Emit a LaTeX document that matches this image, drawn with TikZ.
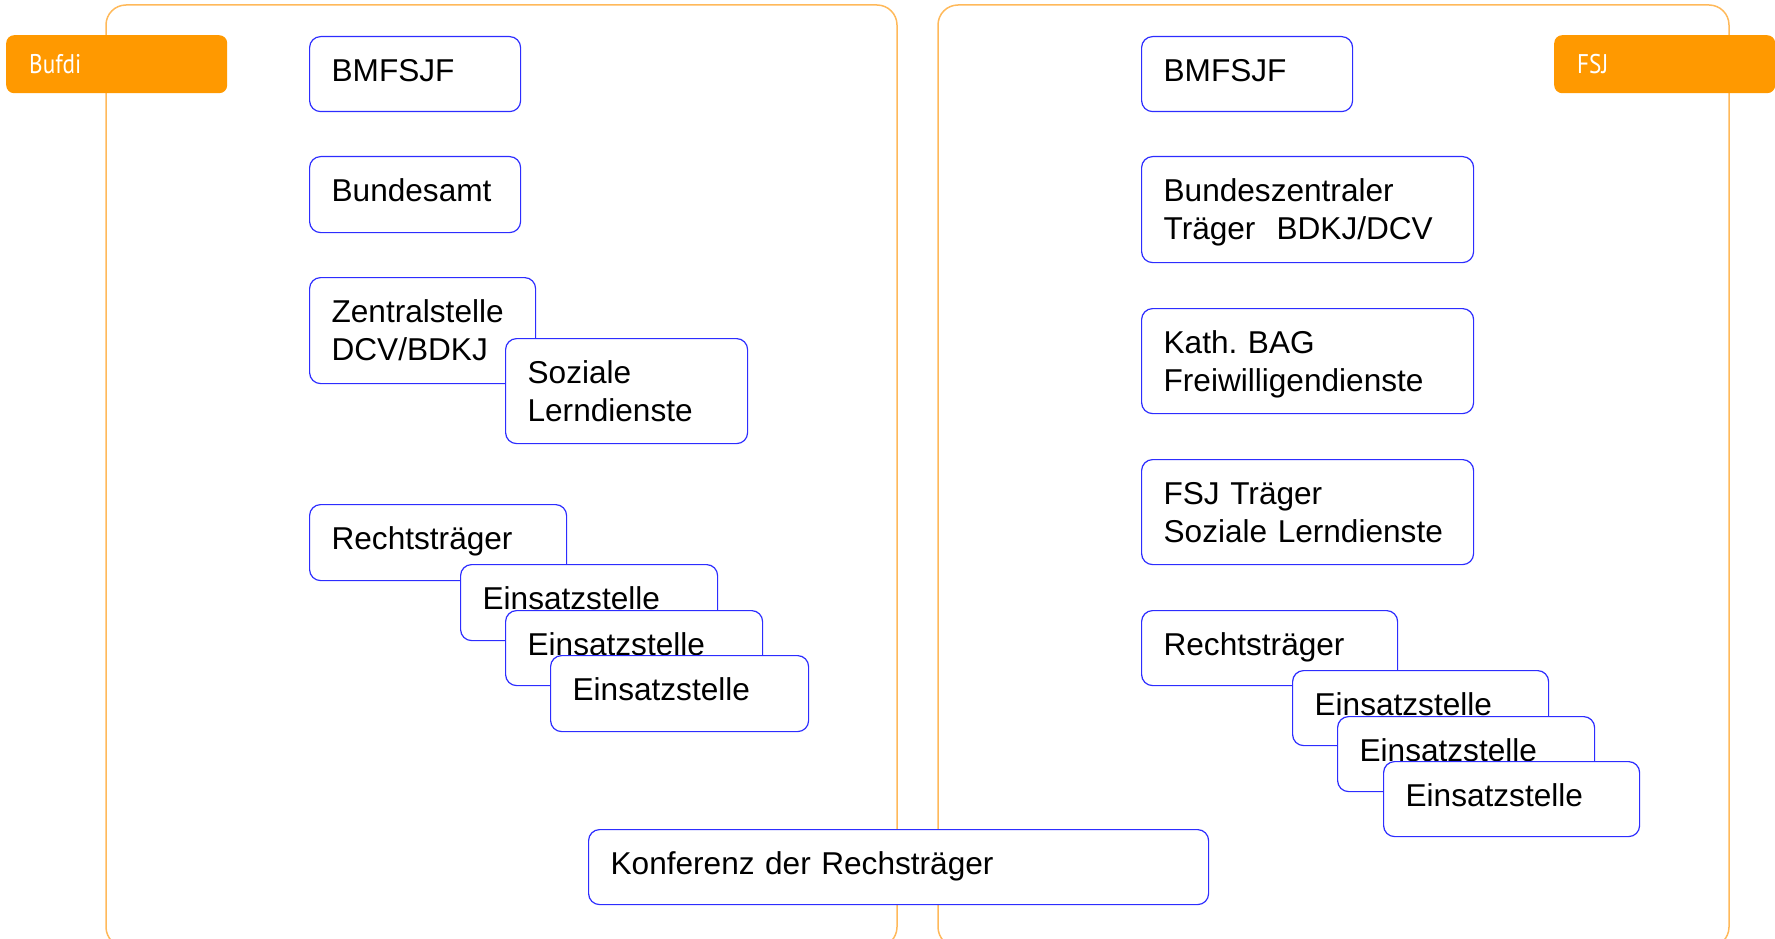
\documentclass[tikz,border=0pt]{standalone}
\usepackage{fontspec}
\setmainfont{Liberation Sans}
\newfontfamily\tabfont{PT Sans}
\usepackage{graphicx}
\frenchspacing
\definecolor{boxblue}{RGB}{45,45,255}
\definecolor{frameorange}{RGB}{255,185,90}
\definecolor{taborange}{RGB}{255,153,0}
\tikzset{
  box/.style={draw=boxblue, line width=1.2pt, rounded corners=11pt, fill=white,
    inner xsep=22pt, inner ysep=0pt, anchor=north west, align=left,
    text height=44.5pt, font=\fontsize{31.6}{38}\selectfont},
  frame/.style={draw=frameorange, line width=1.5pt, rounded corners=20pt},
  tab/.style={fill=taborange, rounded corners=8pt, inner xsep=23pt, inner ysep=0pt,
    anchor=north west, align=left, text=white, text height=38pt, text depth=20pt,
    font=\tabfont\fontsize{27}{30}\selectfont}
}
\newcommand\bx[6]{%
  \pgfmathsetmacro\bxw{#4-44}\pgfmathsetmacro\bxd{#5-44.5}%
  \node[box, text width=\bxw pt, text depth=\bxd pt] (#1) at (#2,#3) {#6};}
\begin{document}
\begin{tikzpicture}[x=1pt,y=-1pt]
\useasboundingbox (0,0) rectangle (1775,939);
% containers
\draw[frame] (106,5) rectangle (897,947);
\draw[frame] (938,5) rectangle (1729,947);
% tabs
\node[tab, text width=175pt] (bufdi) at (6,35) {\scalebox{0.86}[1]{Bufdi}};
\node[tab, text width=175pt] (fsj) at (1554,35) {\scalebox{0.86}[1]{FSJ}};
% left column
\bx{lbmfsjf}{309}{36}{211}{75}{BMFSJF}
\bx{bamt}{309}{156}{211}{76}{Bundesamt}
\bx{zentral}{309}{277}{226}{106}{Zentralstelle\\DCV/BDKJ}
\bx{soziale}{505}{338}{242}{105}{Soziale\\Lerndienste}
\bx{lrecht}{309}{504}{257}{76}{Rechtsträger}
\bx{leinA}{460}{564}{257}{76}{Einsatzstelle}
\bx{leinB}{505}{610}{257}{75}{Einsatzstelle}
\bx{leinC}{550}{655}{258}{76}{Einsatzstelle}
% right column
\bx{rbmfsjf}{1141}{36}{211}{75}{BMFSJF}
\bx{bzt}{1141}{156}{332}{106}{Bundeszentraler\\Träger\ \ BDKJ/DCV}
\bx{kath}{1141}{308}{332}{105}{Kath. BAG\\Freiwilligendienste}
\bx{fsjtr}{1141}{459}{332}{105}{FSJ Träger\\Soziale Lerndienste}
\bx{rrecht}{1141}{610}{256}{75}{Rechtsträger}
\bx{reinA}{1292}{670}{256}{75}{Einsatzstelle}
\bx{reinB}{1337}{716}{257}{75}{Einsatzstelle}
\bx{reinC}{1383}{761}{256}{75}{Einsatzstelle}
% bottom
\bx{konf}{588}{829}{620}{75}{Konferenz der Rechsträger}
\end{tikzpicture}
\end{document}
